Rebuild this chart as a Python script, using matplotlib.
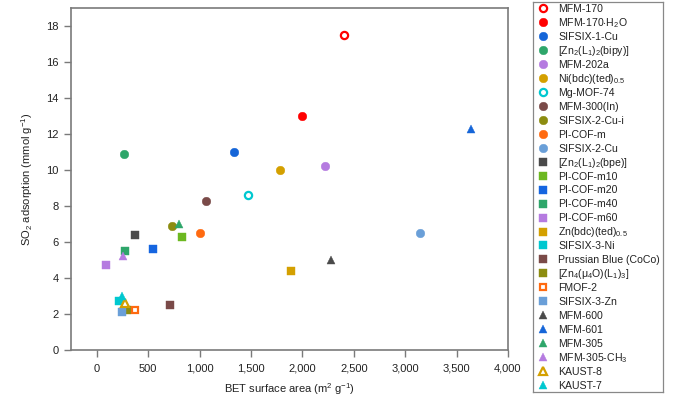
import matplotlib
matplotlib.use("Agg")
import matplotlib.pyplot as plt
from matplotlib.ticker import FuncFormatter, MultipleLocator

plt.rcParams['font.family'] = ['Liberation Sans', 'DejaVu Sans']
plt.rcParams['mathtext.default'] = 'regular'

names = ['MFM-170', 'MFM-170$\\cdot$H$_2$O', 'SIFSIX-1-Cu', '[Zn$_2$(L$_1$)$_2$(bipy)]',
         'MFM-202a', 'Ni(bdc)(ted)$_{0.5}$', 'Mg-MOF-74', 'MFM-300(In)', 'SIFSIX-2-Cu-i',
         'PI-COF-m', 'SIFSIX-2-Cu', '[Zn$_2$(L$_1$)$_2$(bpe)]', 'PI-COF-m10', 'PI-COF-m20',
         'PI-COF-m40', 'PI-COF-m60', 'Zn(bdc)(ted)$_{0.5}$', 'SIFSIX-3-Ni',
         'Prussian Blue (CoCo)', '[Zn$_4$(μ$_4$O)(L$_1$)$_3$]', 'FMOF-2', 'SIFSIX-3-Zn',
         'MFM-600', 'MFM-601', 'MFM-305', 'MFM-305-CH$_3$', 'KAUST-8', 'KAUST-7']
bet = [2408, 2000, 1331, 270, 2217, 1779, 1473, 1065, 730, 1000, 3140, 377, 828, 548,
       273, 92, 1886, 214, 711, 299, 377, 243, 2279, 3644, 799, 253, 279, 247]
so2 = [17.5, 13.0, 11.0, 10.9, 10.2, 10.0, 8.6, 8.3, 6.9, 6.5, 6.5, 6.4, 6.3, 5.6,
       5.5, 4.7, 4.4, 2.7, 2.5, 2.2, 2.2, 2.1, 5.0, 12.3, 7.0, 5.2, 2.6, 3.0]
markers = ['o'] * 11 + ['s'] * 11 + ['^'] * 6
colors = ['#ff0000', '#ff0000', '#1565d8', '#2ea66a', '#b57be0', '#d4a000', '#00c8d0',
          '#7a4a48', '#8c8c10', '#ff6a10', '#6a9fd8', '#4a4a4a', '#6cb820', '#1565e0',
          '#2ea66a', '#b57be0', '#d4a000', '#00c8d0', '#7a4a48', '#8c8c10', '#ff6a10',
          '#6a9fd8', '#4a4a4a', '#1565d8', '#2ea66a', '#b57be0', '#d4a000', '#00c8d0']
hollow = {'MFM-170', 'Mg-MOF-74', 'FMOF-2', 'KAUST-8'}


def style(n, m, c):
    if n in hollow:
        return dict(linestyle='none', marker=m, markersize=5.2 if m != 's' else 4.6,
                    markerfacecolor='white', markeredgecolor=c, markeredgewidth=1.6)
    ms = 6.2 if m == 'o' else (5.6 if m == 's' else 6.4)
    return dict(linestyle='none', marker=m, markersize=ms,
                markerfacecolor=c, markeredgecolor=c, markeredgewidth=0.3)


W, H = 680, 398
fig = plt.figure(figsize=(W/100, H/100), dpi=100)
ax = fig.add_axes([71/W, 1-350/H, (508-71)/W, (350-8)/H])

for n, x, y, m, c in zip(names, bet, so2, markers, colors):
    ax.plot([x], [y], **style(n, m, c))

ax.set_xlim(-250, 4000)
ax.set_ylim(0, 19)
ax.xaxis.set_major_locator(MultipleLocator(500))
ax.yaxis.set_major_locator(MultipleLocator(2))
ax.xaxis.set_major_formatter(FuncFormatter(lambda v, p: f'{int(v):,}'))

spine_c = '#7a7a7a'
for s in ax.spines.values():
    s.set_color(spine_c)
    s.set_linewidth(1.2)
ax.tick_params(axis='both', direction='out', length=5, width=1.0, color=spine_c,
               labelsize=8, labelcolor='#222222', pad=4)
ax.tick_params(axis='x', pad=5)

ax.set_xlabel('BET surface area (m$^2$ g$^{-1}$)', fontsize=8, color='#222222', labelpad=5)
ax.set_ylabel('SO$_2$ adsorption (mmol g$^{-1}$)', fontsize=8, color='#222222', labelpad=8)

# legend panel (layout in pixel units of the panel)
lx0, ly0, lx1, ly1 = 533, 2, 663, 392
lax = fig.add_axes([lx0/W, 1-ly1/H, (lx1-lx0)/W, (ly1-ly0)/H])
lax.set_xlim(0, lx1-lx0)
lax.set_ylim(ly1-ly0, 0)
lax.set_xticks([])
lax.set_yticks([])
for s in lax.spines.values():
    s.set_color('#888888')
    s.set_linewidth(0.9)
pitch = 13.95
first = 6.3
for i, (n, m, c) in enumerate(zip(names, markers, colors)):
    yc = first + pitch*i
    lax.plot([10], [yc], clip_on=False, **style(n, m, c))
    lax.text(25, yc + 3.8, n, fontsize=7.6, color='#222222', va='baseline', ha='left')

fig.savefig('out.png', dpi=100)
